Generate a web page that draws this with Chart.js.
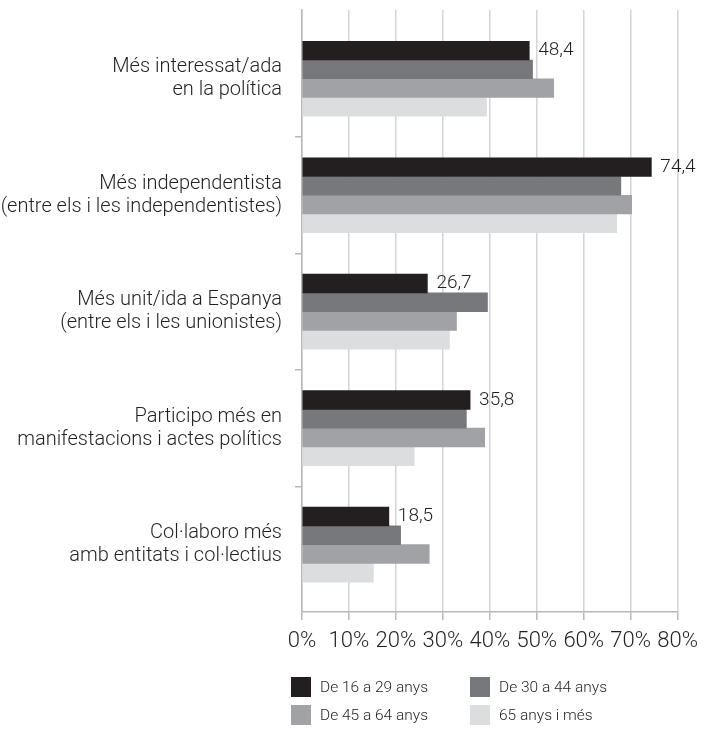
<!DOCTYPE html>
<html>
<head>
<meta charset="utf-8">
<script src="https://cdn.jsdelivr.net/npm/chart.js@4"></script>
<style>
  html, body { margin: 0; padding: 0; background: #fff; }
  #wrap { position: relative; width: 706px; height: 729px; }
  #legend { position: absolute; left: 291px; top: 677px; width: 410px; font-family: Roboto, "Liberation Sans", sans-serif; font-weight: 300; font-size: 15.5px; color: #231f20; }
  .item { position: absolute; display: flex; align-items: center; white-space: nowrap; }
  .box { width: 20px; height: 20px; margin-right: 9px; }
</style>
</head>
<body>
<div id="wrap">
  <canvas id="chart" width="706" height="729"></canvas>
  <div id="legend"></div>
</div>
<script>
const categories = [
    ["Més interessat/ada", "en la política"],
    ["Més independentista", "(entre els i les independentistes)"],
    ["Més unit/ida a Espanya", "(entre els i les unionistes)"],
    ["Participo més en", "manifestacions i actes polítics"],
    ["Col·laboro més", "amb entitats i col·lectius"]
];
const seriesNames = ["De 16 a 29 anys", "De 30 a 44 anys", "De 45 a 64 anys", "65 anys i més"];
const age16to29 = [48.4, 74.4, 26.7, 35.8, 18.5];
const age30to44 = [49.1, 67.9, 39.5, 35.0, 21.0];
const age45to64 = [53.6, 70.2, 32.9, 38.9, 27.1];
const age65plus = [39.3, 67.0, 31.4, 23.9, 15.2];
const xTicks = [0, 10, 20, 30, 40, 50, 60, 70, 80];
const colors = ["#231f20", "#77787b", "#a1a2a5", "#dcdddf"];

const fontFamily = "Roboto, 'Liberation Sans', sans-serif";
const textColor = "#231f20";
const axisGrey = "#b8b8b8";

// HTML legend, 2 x 2
const legend = document.getElementById("legend");
seriesNames.forEach((name, i) => {
    const item = document.createElement("div");
    item.className = "item";
    item.style.left = (i % 2 === 0 ? 0 : 179) + "px";
    item.style.top = (Math.floor(i / 2) * 28) + "px";
    item.innerHTML = `<span class="box" style="background:${colors[i]}"></span><span>${name}</span>`;
    legend.appendChild(item);
});

// value labels next to the first series only
const valueLabels = {
    id: "valueLabels",
    afterDatasetsDraw(chart) {
        const ctx = chart.ctx;
        const meta = chart.getDatasetMeta(0);
        ctx.save();
        ctx.font = "300 19px " + fontFamily;
        ctx.fillStyle = textColor;
        ctx.textBaseline = "middle";
        ctx.textAlign = "left";
        meta.data.forEach((bar, i) => {
            const txt = age16to29[i].toFixed(1).replace(".", ",");
            ctx.fillText(txt, bar.x + 9, bar.y);
        });
        ctx.restore();
    }
};

// rows on a linear index axis so they can sit a bit lower, like the original
const yTicks = [];
categories.forEach((c, i) => {
    yTicks.push(i);
    if (i < categories.length - 1) yTicks.push(i + 0.5);
});
const isRow = (v) => Number.isInteger(v);

const ctx = document.getElementById("chart").getContext("2d");
new Chart(ctx, {
    type: "bar",
    data: {
        datasets: [age16to29, age30to44, age45to64, age65plus].map((d, i) => ({
            label: seriesNames[i],
            data: d.map((v, j) => ({ x: v, y: j })),
            backgroundColor: colors[i],
            borderWidth: 0,
            barThickness: 18.75,
            barPercentage: 1.0
        }))
    },
    options: {
        indexAxis: "y",
        responsive: false,
        animation: false,
        layout: { padding: { left: 0, right: 28, top: 10, bottom: 0 } },
        plugins: {
            legend: { display: false },
            tooltip: { enabled: false }
        },
        scales: {
            x: {
                min: 0,
                max: 80,
                afterFit: (scale) => { scale.height = 117; },
                afterBuildTicks: (scale) => { scale.ticks = xTicks.map(v => ({ value: v })); },
                grid: {
                    color: "#d4d4d4",
                    lineWidth: 1.5,
                    tickLength: 8,
                    tickColor: axisGrey
                },
                border: { color: axisGrey, width: 1.5 },
                ticks: {
                    padding: 8,
                    color: textColor,
                    font: { family: fontFamily, size: 22, weight: 300 },
                    callback: (v) => v + "%"
                }
            },
            y: {
                type: "linear",
                reverse: true,
                offset: false,
                min: -0.59,
                max: 4.578,
                afterFit: (scale) => {
                    scale.width = 302;
                    scale.paddingTop = 0;
                    scale.paddingBottom = 0;
                },
                afterBuildTicks: (scale) => { scale.ticks = yTicks.map(v => ({ value: v })); },
                grid: {
                    offset: false,
                    drawOnChartArea: false,
                    tickLength: 7,
                    tickColor: (c) => (c.tick && isRow(c.tick.value)) ? "rgba(0,0,0,0)" : axisGrey,
                    lineWidth: 1.5
                },
                border: { color: axisGrey, width: 1.5 },
                ticks: {
                    padding: 13,
                    color: textColor,
                    font: { family: fontFamily, size: 20, weight: 300, lineHeight: 1.15 },
                    callback: (v) => isRow(v) ? categories[v] : ""
                }
            }
        }
    },
    plugins: [valueLabels]
});
</script>
</body>
</html>
